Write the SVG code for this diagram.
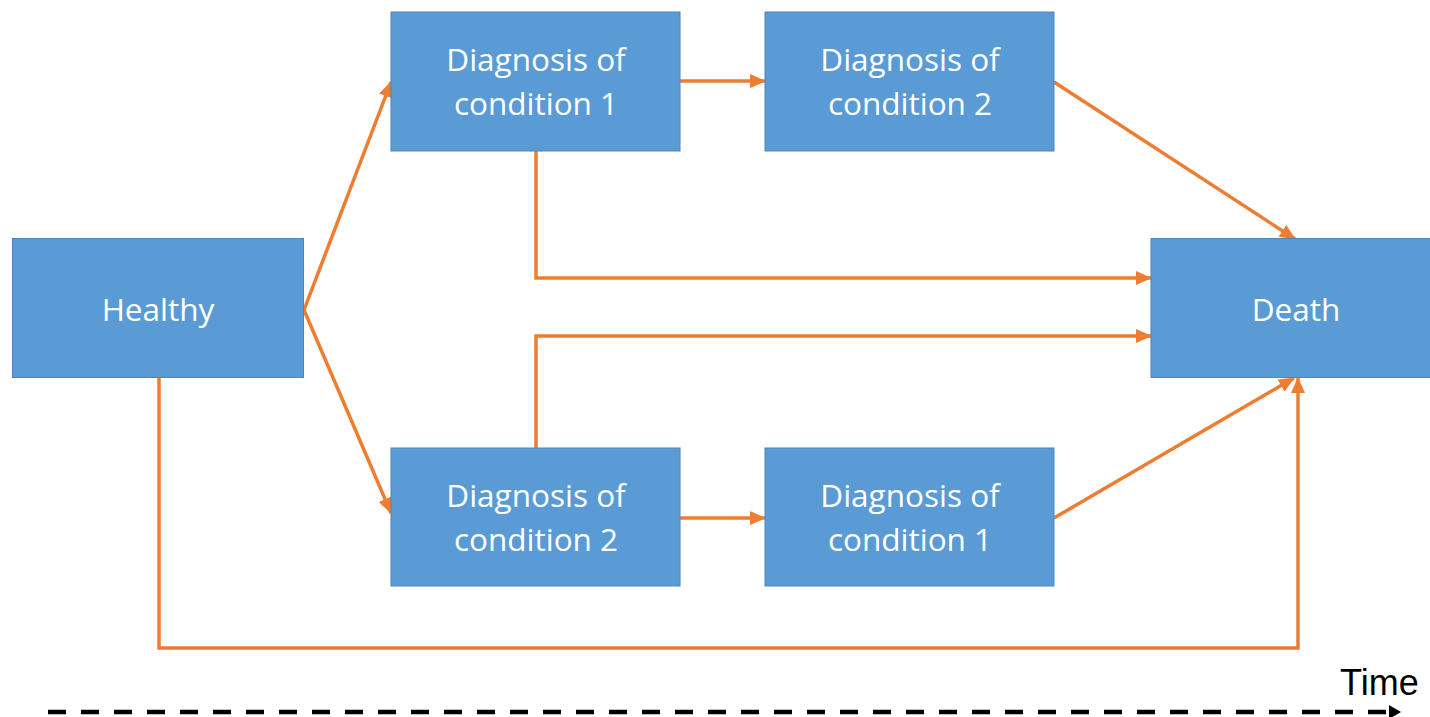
<svg xmlns="http://www.w3.org/2000/svg" width="1430" height="717" viewBox="0 0 1430 717">
<style>
.box{fill:#5B9BD5;stroke:#4A86BE;stroke-width:1}
.lbl{font-family:"Open Sans","Liberation Sans",sans-serif;font-size:31.5px;fill:#FFFFFF;text-anchor:middle}
.con{fill:none;stroke:#ED7D31;stroke-width:3.5;stroke-linejoin:miter}
.time{font-family:"Liberation Sans",Arial,sans-serif;font-size:36px;fill:#000000}
</style>
<defs>
<marker id="ah" markerUnits="userSpaceOnUse" markerWidth="16" markerHeight="14" refX="15" refY="7" orient="auto">
<path d="M0,0 L16,7 L0,14 Z" fill="#ED7D31"/>
</marker>
<marker id="bh" markerUnits="userSpaceOnUse" markerWidth="12" markerHeight="14" refX="11" refY="7" orient="auto">
<path d="M0,0 L12,7 L0,14 Z" fill="#000000"/>
</marker>
</defs>
<rect width="1430" height="717" fill="#FFFFFF"/>
<g id="connectors">
<line class="con" x1="304" y1="310" x2="391" y2="82" marker-end="url(#ah)"/>
<line class="con" x1="304" y1="310" x2="391" y2="513" marker-end="url(#ah)"/>
<line class="con" x1="680" y1="81" x2="765" y2="81" marker-end="url(#ah)"/>
<line class="con" x1="1054" y1="82" x2="1295" y2="239" marker-end="url(#ah)"/>
<polyline class="con" points="536,151 536,278 1151,278" marker-end="url(#ah)"/>
<polyline class="con" points="536,448 536,336 1151,336" marker-end="url(#ah)"/>
<line class="con" x1="680" y1="518" x2="765" y2="518" marker-end="url(#ah)"/>
<line class="con" x1="1054" y1="518" x2="1294" y2="378" marker-end="url(#ah)"/>
<polyline class="con" points="159,378 159,648 1298,648 1298,378" marker-end="url(#ah)"/>
</g>
<g id="healthy">
<rect class="box" x="12.5" y="238.5" width="291" height="139"/>
<text class="lbl" x="158" y="321">Healthy</text>
</g>
<g id="diag1-top">
<rect class="box" x="391" y="12" width="289" height="139"/>
<text class="lbl" x="536" y="71">Diagnosis of</text>
<text class="lbl" x="536" y="115">condition 1</text>
</g>
<g id="diag2-top">
<rect class="box" x="765" y="12" width="289" height="139"/>
<text class="lbl" x="910" y="71">Diagnosis of</text>
<text class="lbl" x="910" y="115">condition 2</text>
</g>
<g id="diag2-bottom">
<rect class="box" x="391" y="448" width="289" height="138"/>
<text class="lbl" x="536" y="507">Diagnosis of</text>
<text class="lbl" x="536" y="551">condition 2</text>
</g>
<g id="diag1-bottom">
<rect class="box" x="765" y="448" width="289" height="138"/>
<text class="lbl" x="910" y="507">Diagnosis of</text>
<text class="lbl" x="910" y="551">condition 1</text>
</g>
<g id="death">
<rect class="box" x="1151" y="238.5" width="291" height="139"/>
<text class="lbl" x="1296" y="321">Death</text>
</g>
<g id="time">
<line x1="48" y1="712" x2="1400" y2="712" stroke="#000000" stroke-width="4.5" stroke-dasharray="18,15" marker-end="url(#bh)"/>
<text class="time" x="1340" y="695">Time</text>
</g>
</svg>
